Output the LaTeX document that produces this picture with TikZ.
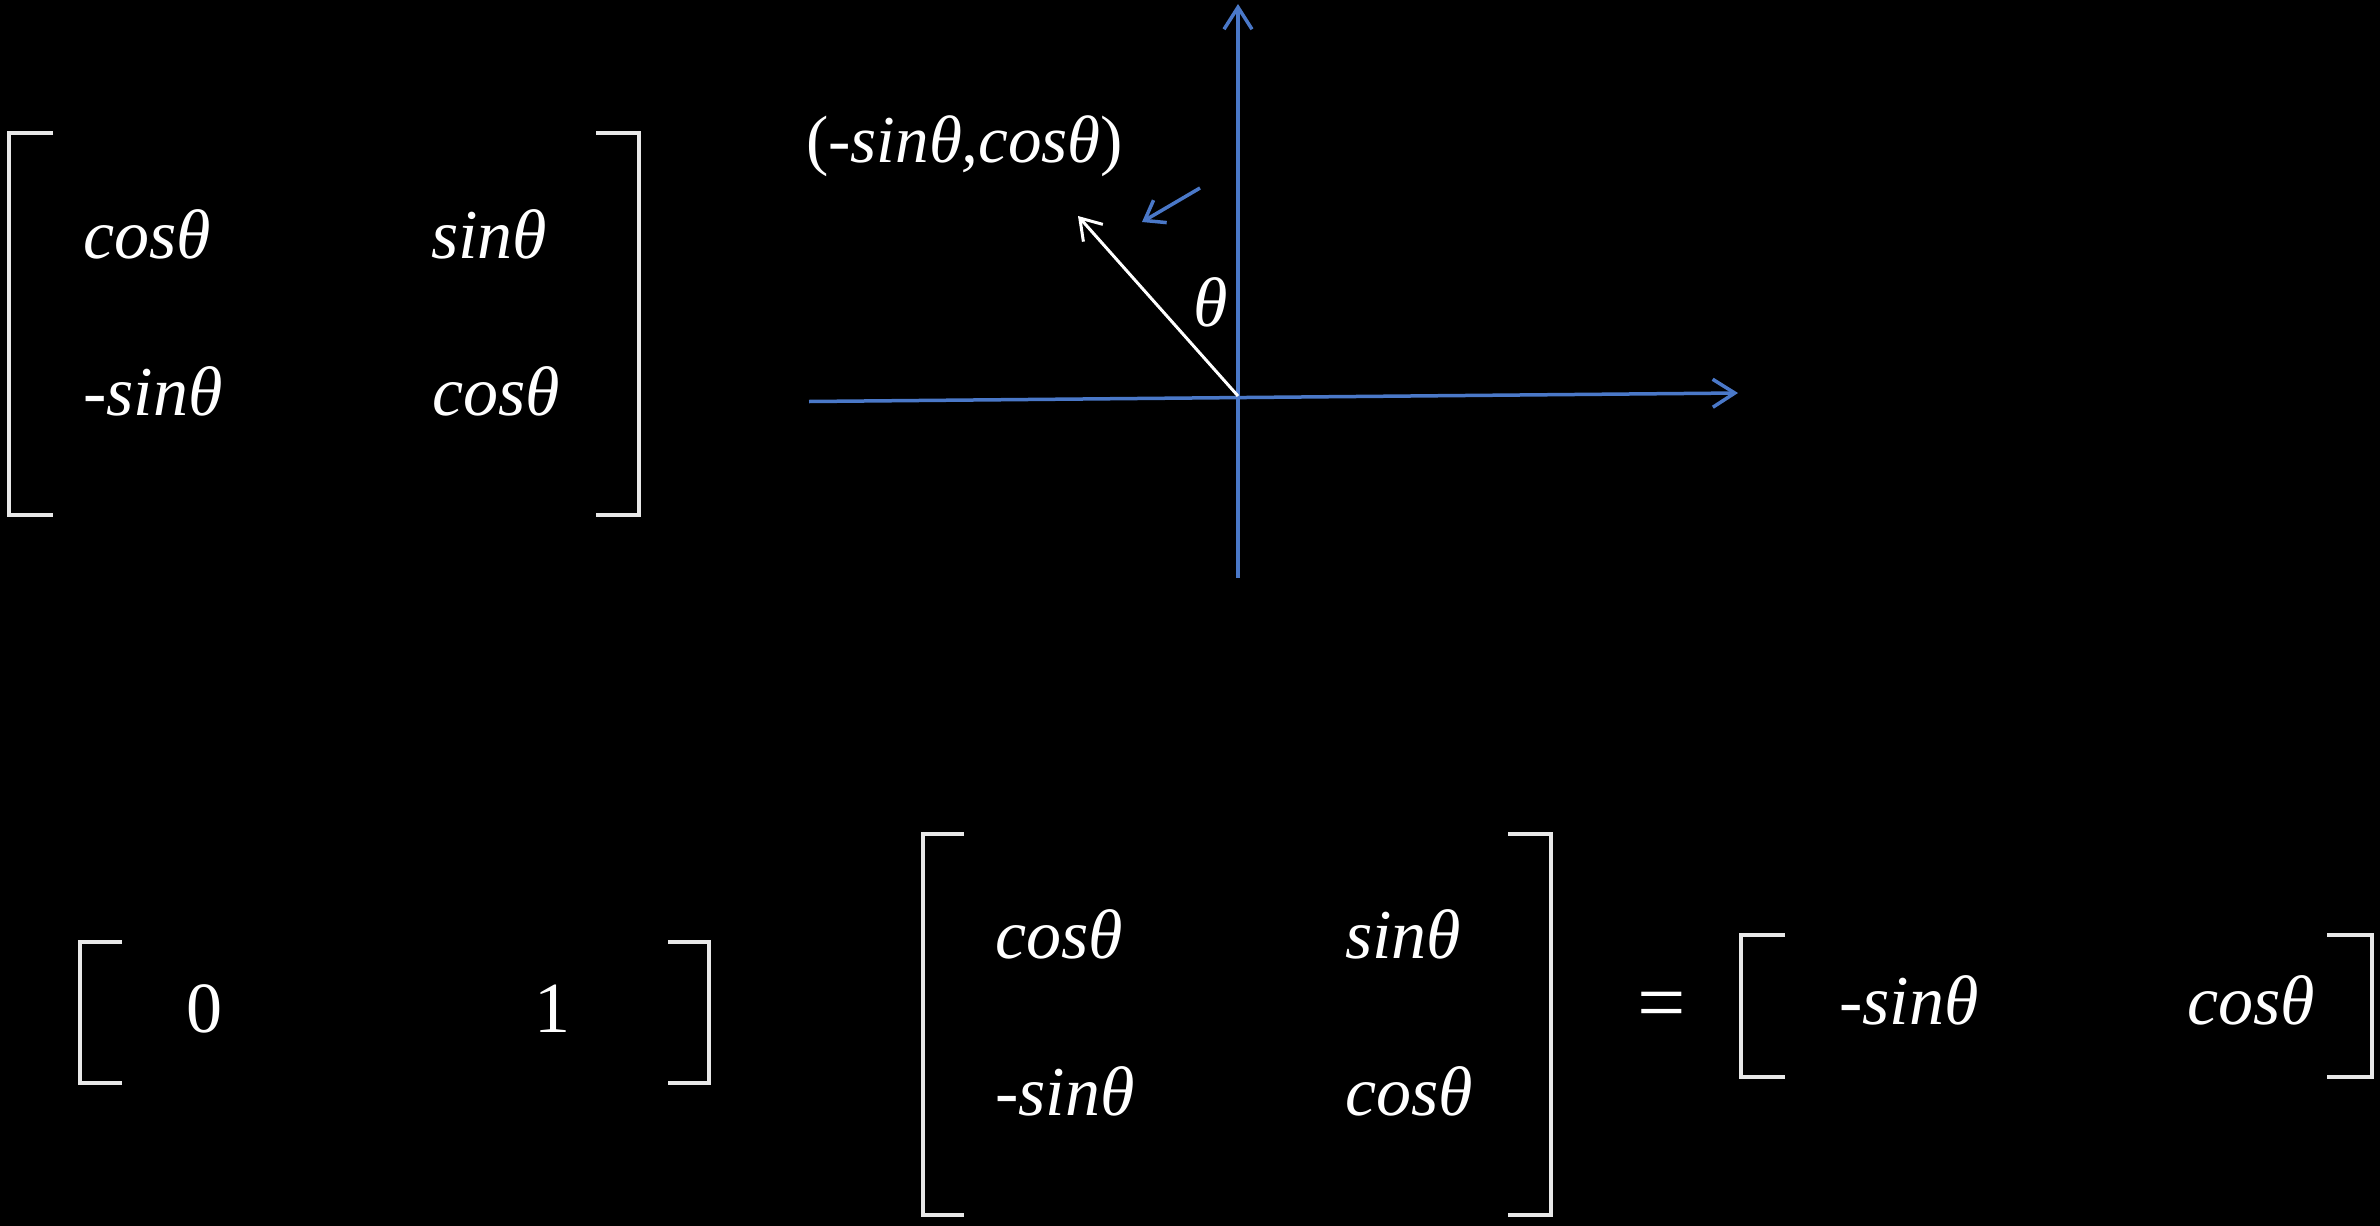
\documentclass[tikz,border=0pt]{standalone}
\usepackage{fontspec}
\setmainfont{Liberation Serif}
\usetikzlibrary{arrows.meta}
\definecolor{axisblue}{HTML}{4A78C8}
\definecolor{brk}{HTML}{E8E8E8}
\begin{document}
\begin{tikzpicture}[x=1pt,y=-1pt,
  txt/.style={text=white,inner sep=0pt,anchor=base west,font=\fontsize{70}{84}\selectfont\itshape},
  num/.style={text=white,inner sep=0pt,anchor=base,font=\fontsize{72}{86}\selectfont},
  brack/.style={draw=brk,line width=4pt},
  axisline/.style={draw=axisblue,line width=3.5pt,-{Straight Barb[length=22pt,width=28pt]}},
  vecline/.style={draw=white,line width=3pt,-{Straight Barb[length=20pt,width=26pt]}},
  hintline/.style={draw=axisblue,line width=3.5pt,-{Straight Barb[length=18pt,width=26pt]}}
]
\fill[black] (0,0) rectangle (2380,1226);
\useasboundingbox (0,0) rectangle (2380,1226);

% top-left matrix
\draw[brack] (53,133) -- (9,133) -- (9,515) -- (53,515);
\draw[brack] (596,133) -- (639,133) -- (639,515) -- (596,515);
\node[txt] (a11) at (83,258) {cosθ};
\node[txt] (a12) at (431,258) {sinθ};
\node[txt] (a21) at (83,415) {-sinθ};
\node[txt] (a22) at (432,415) {cosθ};

% axes
\coordinate (O) at (1238,396);
\coordinate (ytop) at (1238,4);
\coordinate (ybot) at (1238,578);
\coordinate (xleft) at (809,401.5);
\coordinate (xright) at (1738,393);
\coordinate (vtip) at (1078,216);
\coordinate (hs) at (1200,188);
\coordinate (he) at (1142,222);
\draw[axisline] (ybot) -- (ytop);
\draw[axisline] (xleft) -- (xright);
\draw[vecline] (O) -- (vtip);
\draw[hintline] (hs) -- (he);
\node[txt] (th) at (1193,326) {θ};
\node[txt,font=\fontsize{67}{80}\selectfont\itshape] (lbl) at (806,162) {\upshape(\itshape-sinθ,cosθ\upshape)};

% bottom row vector
\draw[brack] (122,942) -- (80,942) -- (80,1083) -- (122,1083);
\draw[brack] (668,942) -- (709,942) -- (709,1083) -- (668,1083);
\node[num] (z0) at (204,1032) {0};
\node[num] (z1) at (552,1032) {1};

% middle matrix
\draw[brack] (964,834) -- (923,834) -- (923,1215) -- (964,1215);
\draw[brack] (1508,834) -- (1551,834) -- (1551,1215) -- (1508,1215);
\node[txt] (b11) at (995,958) {cosθ};
\node[txt] (b12) at (1345,958) {sinθ};
\node[txt] (b21) at (995,1115) {-sinθ};
\node[txt] (b22) at (1345,1115) {cosθ};

% equals
\node[num,anchor=center,font=\fontsize{86}{100}\selectfont] (eq) at (1662,1012) {=};

% result row vector
\draw[brack] (1785,935) -- (1741,935) -- (1741,1077) -- (1785,1077);
\draw[brack] (2327,935) -- (2372,935) -- (2372,1077) -- (2327,1077);
\node[txt] (r1) at (1839,1024) {-sinθ};
\node[txt] (r2) at (2187,1024) {cosθ};
\end{tikzpicture}
\end{document}
